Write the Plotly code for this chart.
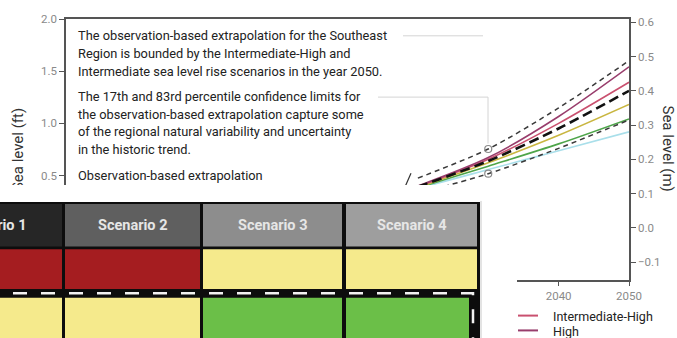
import plotly.graph_objects as go

# ---------------- data ----------------
years_scen = [2000, 2010, 2020, 2030, 2040, 2050]
high = [0.0, 0.05, 0.122, 0.205, 0.325, 0.47]
int_high = [0.0, 0.05, 0.12, 0.20, 0.305, 0.425]
intermediate = [0.0, 0.05, 0.118, 0.19, 0.27, 0.36]
int_low = [0.0, 0.05, 0.116, 0.18, 0.245, 0.318]
low = [0.0, 0.05, 0.114, 0.17, 0.225, 0.28]

years_obs = [2020, 2030, 2040, 2050]
obs_extrap = [0.12, 0.195, 0.29, 0.40]
obs_upper = [0.145, 0.23, 0.35, 0.488]
obs_lower = [0.10, 0.158, 0.232, 0.315]

ft_ticks = [-0.5, 0.0, 0.5, 1.0, 1.5, 2.0]
m_ticks = [-0.1, 0.0, 0.1, 0.2, 0.3, 0.4, 0.5, 0.6]
x_ticks = [1970, 1980, 1990, 2000, 2010, 2020, 2030, 2040, 2050]

text_par1 = ["The observation-based extrapolation for the Southeast",
             "Region is bounded by the Intermediate-High and",
             "Intermediate sea level rise scenarios in the year 2050."]
text_par2 = ["The 17th and 83rd percentile confidence limits for",
             "the observation-based extrapolation capture some",
             "of the regional natural variability and uncertainty",
             "in the historic trend."]
text_par3 = ["Observation-based extrapolation"]

legend_names = ["Intermediate-High", "High"]

table_headers = ["Scenario 1", "Scenario 2", "Scenario 3", "Scenario 4"]
row1_levels = ["high", "high", "medium", "medium"]
row2_levels = ["medium", "medium", "low", "low"]

# ---------------- style ----------------
W, H = 677, 338
L, R, T, B = 66, 629, 16, 280
FT_PER_M = 3.28084
FONT = "Roboto"

colors = {"High": "#983d6c", "Intermediate-High": "#c9506f", "Intermediate": "#c9b640",
          "Intermediate-Low": "#4ea54a", "Low": "#a9dfea"}
level_colors = {"high": "#a51d20", "medium": "#f5ea8c", "low": "#6bbf48"}
header_fill = ["#262626", "#5f5f5f", "#8d8d8d", "#9e9e9e"]
col_edges = [(-80, 62), (65, 200), (203, 342), (346, 477)]


def xp(px):
    return (px - L) / (R - L)


def yp(py):
    return (B - py) / (B - T)


fig = go.Figure()

# invisible twin of the extrapolation in feet so the left (ft) axis is drawn
fig.add_trace(go.Scatter(x=years_obs, y=[v * FT_PER_M for v in obs_extrap], mode="lines",
                         line=dict(width=0), opacity=0, hoverinfo="skip", showlegend=False))

scen = [("Low", low), ("Intermediate-Low", int_low), ("Intermediate", intermediate),
        ("Intermediate-High", int_high), ("High", high)]
for name, vals in scen:
    fig.add_trace(go.Scatter(x=years_scen, y=vals, name=name, mode="lines", yaxis="y2",
                             line=dict(color=colors[name], width=1.6, shape="spline", smoothing=0.8),
                             showlegend=False))

for name, vals in [("83rd percentile", obs_upper), ("17th percentile", obs_lower)]:
    fig.add_trace(go.Scatter(x=years_obs, y=vals, name=name, mode="lines", yaxis="y2",
                             line=dict(color="#3a3a3a", width=1.5, dash="5px,4px", shape="spline",
                                       smoothing=0.8),
                             showlegend=False))
    fig.add_trace(go.Scatter(x=[years_obs[1]], y=[vals[1]], mode="markers", yaxis="y2",
                             marker=dict(symbol="circle-open", size=7, color="#8a8a8a",
                                         line=dict(width=1.2)),
                             showlegend=False))

fig.add_trace(go.Scatter(x=years_obs, y=obs_extrap, name="Observation-based extrapolation",
                         mode="lines", yaxis="y2",
                         line=dict(color="#111111", width=2.6, dash="10px,5px", shape="spline",
                                   smoothing=0.8),
                         showlegend=False))

tickfont = dict(family=FONT, size=11.5, color="#8a8a8a")
fig.update_layout(
    width=W, height=H,
    margin=dict(l=L, r=W - R, t=T, b=H - B, pad=0),
    paper_bgcolor="white", plot_bgcolor="white",
    showlegend=False,
    xaxis=dict(range=[1970, 2050], tickmode="array", tickvals=x_ticks, ticks="outside", ticklen=4,
               tickcolor="#555", showline=True, linecolor="#555", linewidth=1.5, mirror=True,
               showgrid=False, zeroline=False, tickfont=tickfont),
    yaxis=dict(range=[-0.5, 2.0], tickmode="array", tickvals=ft_ticks, tickformat=".1f",
               ticks="outside", ticklen=5, tickcolor="#555", showline=True, linecolor="#555",
               linewidth=1.5, showgrid=False, zeroline=False, tickfont=tickfont,
               showticklabels=True),
    yaxis2=dict(range=[-0.5 / FT_PER_M, 2.0 / FT_PER_M], tickmode="array", tickvals=m_ticks,
                tickformat=".1f", overlaying="y", side="right", anchor="x", ticks="outside",
                ticklen=5, tickcolor="#555", showline=True, linecolor="#555", linewidth=1.5,
                showgrid=False, zeroline=False, tickfont=tickfont),
)

shapes = []
annotations = []

# connector lines (faint)
for (x0, y0, x1, y1) in [(403, 33, 483, 33), (378, 95, 488, 95), (488, 95, 488, 142)]:
    shapes.append(dict(type="line", xref="paper", yref="paper", x0=xp(x0), y0=yp(y0),
                       x1=xp(x1), y1=yp(y1), line=dict(color="#d4d4d4", width=1), layer="above"))
shapes.append(dict(type="line", xref="paper", yref="paper", x0=xp(405), y0=yp(186),
                   x1=xp(411), y1=yp(172), line=dict(color="#333", width=1.2), layer="above"))

# left axis title as shape label (so the table overlay can cover it)
shapes.append(dict(type="rect", xref="paper", yref="paper", x0=xp(5), x1=xp(29),
                   y0=yp(198), y1=yp(98), line=dict(width=0), fillcolor="rgba(0,0,0,0)",
                   layer="above",
                   label=dict(text="Sea level (ft)", textangle=-90, textposition="middle center",
                              font=dict(family=FONT, size=15, color="#333"))))

# white overlay panel
shapes.append(dict(type="rect", xref="paper", yref="paper", x0=xp(-5), x1=xp(517),
                   y0=yp(345), y1=yp(184), line=dict(width=0), fillcolor="white", layer="above"))
shapes.append(dict(type="line", xref="paper", yref="paper", x0=xp(481), x1=xp(481),
                   y0=yp(200), y1=yp(345), line=dict(color="#c8c8c8", width=1), layer="above"))
# table black background
shapes.append(dict(type="rect", xref="paper", yref="paper", x0=xp(-5), x1=xp(480),
                   y0=yp(345), y1=yp(201), line=dict(width=0), fillcolor="#0d0d0d", layer="above"))

for i, (cx0, cx1) in enumerate(col_edges):
    shapes.append(dict(type="rect", xref="paper", yref="paper", x0=xp(cx0), x1=xp(cx1),
                       y0=yp(246), y1=yp(203), line=dict(width=0), fillcolor=header_fill[i],
                       layer="above"))
    annotations.append(dict(xref="paper", yref="paper", x=xp((cx0 + cx1) / 2), y=yp(225),
                            text="<b>" + table_headers[i] + "</b>", showarrow=False,
                            xanchor="center", yanchor="middle",
                            font=dict(family=FONT, size=14.5, color="#e6e6e6")))
    shapes.append(dict(type="rect", xref="paper", yref="paper", x0=xp(cx0), x1=xp(cx1),
                       y0=yp(289), y1=yp(249), line=dict(width=0),
                       fillcolor=level_colors[row1_levels[i]], layer="above"))
    x1r2 = 469 if i == len(col_edges) - 1 else cx1
    shapes.append(dict(type="rect", xref="paper", yref="paper", x0=xp(cx0), x1=xp(x1r2),
                       y0=yp(345), y1=yp(298), line=dict(width=0),
                       fillcolor=level_colors[row2_levels[i]], layer="above"))

# dashed highlight border
path = "M {} {} L {} {} L {} {}".format(xp(-15), yp(293.5), xp(473), yp(293.5), xp(473), yp(350))
shapes.append(dict(type="path", xref="paper", yref="paper", path=path,
                   line=dict(color="#f2f2f2", width=2.5, dash="14px,14px"), layer="above"))


# paragraph texts
def add_lines(lines, y_start):
    for k, s in enumerate(lines):
        annotations.append(dict(xref="paper", yref="paper", x=xp(76), y=yp(y_start + 17.8 * k),
                                text=s, showarrow=False, xanchor="left", yanchor="middle",
                                font=dict(family=FONT, size=12.8, color="#222")))


add_lines(text_par1, 33)
add_lines(text_par2, 94.5)
add_lines(text_par3, 174)

# right axis title
annotations.append(dict(xref="paper", yref="paper", x=xp(668), y=yp(147), text="Sea level (m)",
                        textangle=90, showarrow=False, xanchor="center", yanchor="middle",
                        font=dict(family=FONT, size=15, color="#333")))

# legend
for k, nm in enumerate(legend_names):
    yy = 316 + 15 * k
    shapes.append(dict(type="line", xref="paper", yref="paper", x0=xp(518), x1=xp(538),
                       y0=yp(yy), y1=yp(yy), line=dict(color=colors[nm], width=2), layer="above"))
    annotations.append(dict(xref="paper", yref="paper", x=xp(551), y=yp(yy + 1), text=nm,
                            showarrow=False, xanchor="left", yanchor="middle",
                            font=dict(family=FONT, size=12.5, color="#222")))

fig.update_layout(shapes=shapes, annotations=annotations)
fig.write_html("out.html")
